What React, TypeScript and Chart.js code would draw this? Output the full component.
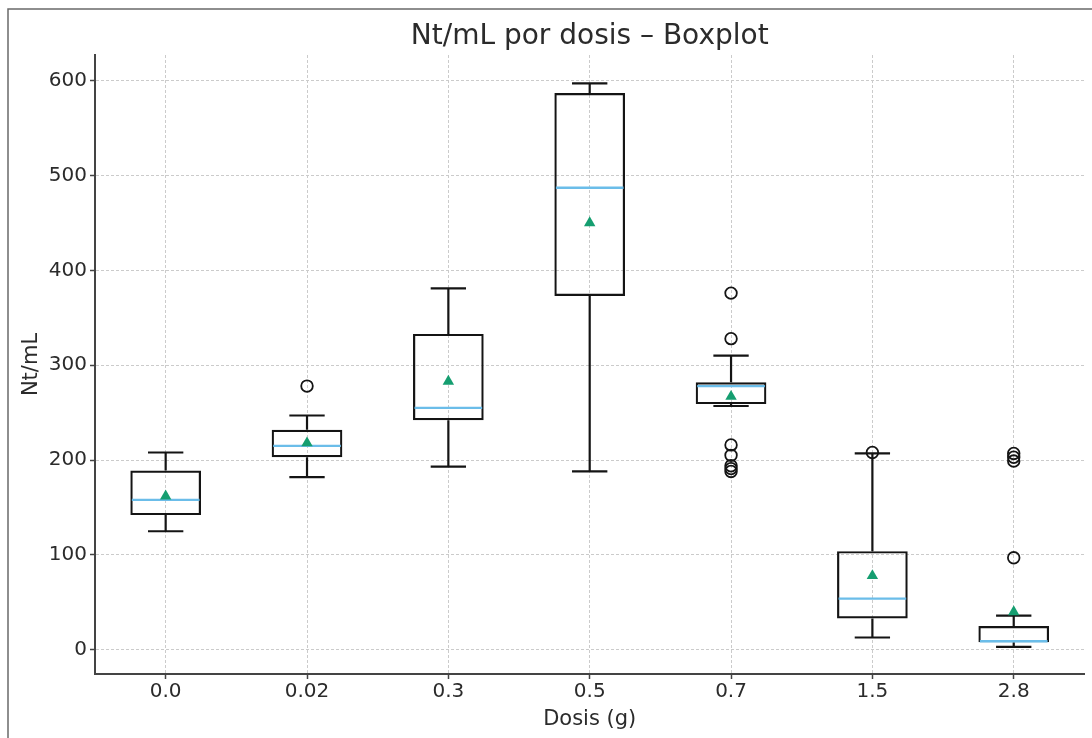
import { useEffect, useRef } from 'react';
import { Chart, registerables } from 'chart.js';

Chart.register(...registerables);

const DOSES = ['0.0', '0.02', '0.3', '0.5', '0.7', '1.5', '2.8'];
const WHISKER_LOW = [125, 182, 193, 188, 257, 13, 3];
const Q1 = [142, 203, 242, 373, 259, 33, 8];
const MEDIAN = [158, 215, 255, 487, 278, 54, 9];
const Q3 = [189, 232, 333, 587, 282, 104, 25];
const WHISKER_HIGH = [208, 247, 381, 597, 310, 207, 36];
const MEAN = [162, 218, 283, 450, 267, 78, 40];
const OUTLIER_DOSE = ['0.02', '0.7', '0.7', '0.7', '0.7', '0.7', '0.7', '0.7', '1.5', '2.8', '2.8', '2.8', '2.8'];
const OUTLIER_VALUE = [278, 376, 328, 216, 205, 194, 191, 188, 208, 207, 203, 199, 97];
const Y_TICKS = [0, 100, 200, 300, 400, 500, 600];

const TEXT = '#2b2b2b';
const AXIS = '#444444';
const LINE = '#141414';
const FONT = "'DejaVu Sans', sans-serif";

const backgroundPlugin = {
  id: 'bgFrame',
  beforeDraw(chart: any) {
    const { ctx, width, height } = chart;
    ctx.save();
    ctx.fillStyle = '#ffffff';
    ctx.fillRect(0, 0, width, height);
    ctx.strokeStyle = '#6a6a6a';
    ctx.lineWidth = 1.5;
    ctx.beginPath();
    ctx.moveTo(8, height);
    ctx.lineTo(8, 9);
    ctx.lineTo(width, 9);
    ctx.stroke();
    ctx.restore();
  },
};

const whiskerPlugin = {
  id: 'whiskers',
  afterDatasetDraw(chart: any, args: any) {
    if (args.index !== 0) return;
    const { ctx } = chart;
    const x = chart.scales.x;
    const y = chart.scales.y;
    const step = x.getPixelForValue(1) - x.getPixelForValue(0);
    const capHalf = step * 0.125;
    const boxHalf = step * 0.25;
    ctx.save();
    ctx.setLineDash([]);
    DOSES.forEach((_, i) => {
      const cx = x.getPixelForValue(i);
      const yHi = y.getPixelForValue(WHISKER_HIGH[i]);
      const yLo = y.getPixelForValue(WHISKER_LOW[i]);
      const yQ1 = y.getPixelForValue(Q1[i]);
      const yQ3 = y.getPixelForValue(Q3[i]);
      const yMed = y.getPixelForValue(MEDIAN[i]);
      ctx.strokeStyle = LINE;
      ctx.lineWidth = 2.2;
      ctx.beginPath();
      ctx.moveTo(cx, yQ3);
      ctx.lineTo(cx, yHi);
      ctx.moveTo(cx, yQ1);
      ctx.lineTo(cx, yLo);
      ctx.moveTo(cx - capHalf, yHi);
      ctx.lineTo(cx + capHalf, yHi);
      ctx.moveTo(cx - capHalf, yLo);
      ctx.lineTo(cx + capHalf, yLo);
      ctx.stroke();
      ctx.strokeStyle = '#6bbde9';
      ctx.lineWidth = 2.4;
      ctx.beginPath();
      ctx.moveTo(cx - boxHalf + 1.5, yMed);
      ctx.lineTo(cx + boxHalf - 1.5, yMed);
      ctx.stroke();
    });
    ctx.restore();
  },
};

export default function App() {
  const canvasRef = useRef<HTMLCanvasElement | null>(null);

  useEffect(() => {
    const canvas = canvasRef.current;
    if (!canvas) return;
    const chart = new Chart(canvas, {
      type: 'bar',
      data: {
        labels: DOSES,
        datasets: [
          {
            type: 'bar',
            label: 'IQR',
            data: DOSES.map((_, i) => [Q1[i], Q3[i]]) as any,
            backgroundColor: 'rgba(0,0,0,0)',
            borderColor: LINE,
            borderWidth: 2.2,
            borderSkipped: false,
            barPercentage: 0.5,
            categoryPercentage: 1,
            order: 3,
          },
          {
            type: 'line',
            label: 'Outliers',
            data: OUTLIER_DOSE.map((d, i) => ({ x: d, y: OUTLIER_VALUE[i] })) as any,
            showLine: false,
            pointStyle: 'circle',
            pointRadius: 5.8,
            pointBorderWidth: 1.8,
            pointBorderColor: LINE,
            pointBackgroundColor: 'rgba(0,0,0,0)',
            order: 2,
          },
          {
            type: 'line',
            label: 'Media',
            data: MEAN,
            showLine: false,
            pointStyle: 'triangle',
            pointRadius: 6.6,
            pointBorderWidth: 0,
            pointBackgroundColor: '#159e70',
            pointBorderColor: '#159e70',
            order: 1,
          },
        ],
      },
      options: {
        responsive: false,
        animation: false,
        events: [],
        layout: { padding: { left: 0, right: 6, top: 0, bottom: 0 } },
        plugins: {
          legend: { display: false },
          tooltip: { enabled: false },
          title: {
            display: true,
            fullSize: false,
            text: 'Nt/mL por dosis – Boxplot',
            color: TEXT,
            font: { family: FONT, size: 28, weight: 'normal' },
            padding: { top: 20, bottom: 1.4 },
          },
        },
        scales: {
          x: {
            type: 'category',
            offset: true,
            afterFit: (s: any) => {
              s.height = 64;
            },
            grid: {
              offset: false,
              color: '#cbcbcb',
              lineWidth: 1,
              tickColor: AXIS,
              tickLength: 5,
              tickWidth: 1.5,
            },
            border: { color: AXIS, width: 2, dash: [3, 2] },
            ticks: {
              color: TEXT,
              padding: 1,
              font: { family: FONT, size: 20 },
              maxRotation: 0,
            },
            title: {
              display: true,
              text: 'Dosis (g)',
              color: TEXT,
              font: { family: FONT, size: 21 },
              padding: { top: 0, bottom: 5.5 },
            },
          },
          y: {
            type: 'linear',
            min: -25.5,
            max: 627,
            afterFit: (s: any) => {
              s.width = 95;
            },
            afterBuildTicks: (s: any) => {
              s.ticks = Y_TICKS.map((v) => ({ value: v }));
            },
            grid: {
              color: '#cbcbcb',
              lineWidth: 1,
              tickColor: AXIS,
              tickLength: 5,
              tickWidth: 1.5,
            },
            border: { color: AXIS, width: 2, dash: [3, 2] },
            ticks: {
              color: TEXT,
              padding: 3,
              font: { family: FONT, size: 20 },
            },
            title: {
              display: true,
              text: 'Nt/mL',
              color: TEXT,
              font: { family: FONT, size: 21 },
              padding: { top: 19, bottom: 0 },
            },
          },
        },
      },
      plugins: [backgroundPlugin, whiskerPlugin],
    });
    return () => chart.destroy();
  }, []);

  return (
    <div style={{ position: 'fixed', left: 0, top: 0, width: 1092, height: 738, background: '#fff' }}>
      <canvas ref={canvasRef} width={1092} height={738} style={{ display: 'block', width: 1092, height: 738 }} />
    </div>
  );
}
